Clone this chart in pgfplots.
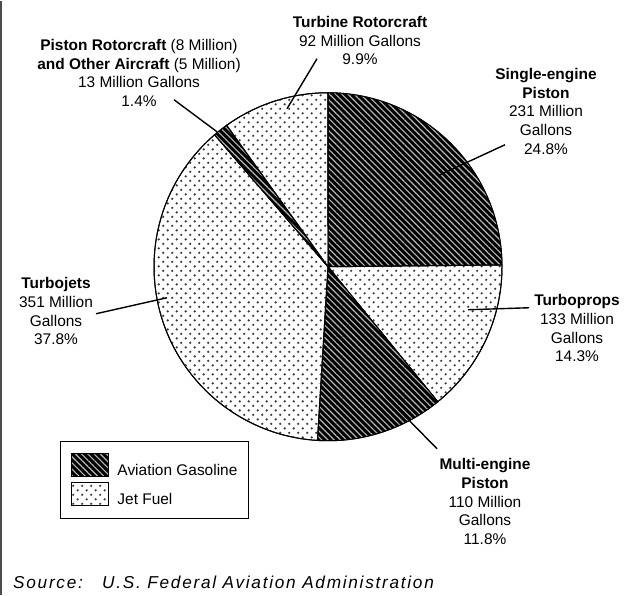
\documentclass[border=0pt]{standalone}
\usepackage{fontspec}
\setmainfont{Liberation Sans}
\usepackage{pgfplots}
\pgfplotsset{compat=1.18}
\usetikzlibrary{patterns,patterns.meta}

\pgfdeclarepatternformonly{jetdots}{\pgfqpoint{0pt}{0pt}}{\pgfqpoint{9pt}{9pt}}{\pgfqpoint{9pt}{9pt}}{%
  \pgfpathcircle{\pgfqpoint{2.25pt}{2.25pt}}{1.25pt}%
  \pgfpathcircle{\pgfqpoint{6.75pt}{6.75pt}}{1.25pt}%
  \pgfusepath{fill}}

\tikzset{
  avgas/.style={preaction={fill=black}, pattern={Lines[angle=-45,distance=4.4pt,line width=1.15pt]}, pattern color=black!28},
  jetfuel/.style={preaction={fill=white}, pattern=jetdots, pattern color=black!78},
  lbl/.style={align=center, anchor=north, inner sep=0pt, font=\fontsize{15.5}{19}\selectfont},
}

% fuel use, million gallons (clockwise from 12 o'clock)
\def\vSingle{231}
\def\vTurboprop{133}
\def\vMulti{110}
\def\vTurbojet{351}
\def\vPistonRot{13}
\def\vTurbineRot{92}
\pgfmathsetmacro\total{\vSingle+\vTurboprop+\vMulti+\vTurbojet+\vPistonRot+\vTurbineRot}
\pgfmathsetmacro\aA{90}
\pgfmathsetmacro\aB{\aA-\vSingle/\total*360}
\pgfmathsetmacro\aC{\aB-\vTurboprop/\total*360}
\pgfmathsetmacro\aD{\aC-\vMulti/\total*360}
\pgfmathsetmacro\aE{\aD-\vTurbojet/\total*360}
\pgfmathsetmacro\aF{\aE-\vPistonRot/\total*360}
\pgfmathsetmacro\aG{\aF-\vTurbineRot/\total*360}

\newcommand\pieslice[3]{%
  \addplot[#3, draw=black, line width=1pt, domain=#2:#1, samples=90, variable=\t, forget plot]
    ({328+174*cos(\t)},{266-174*sin(\t)}) -- (axis cs:328,266) -- cycle;}

\begin{document}
\begin{tikzpicture}
\begin{axis}[
  width=634bp, height=594bp, scale only axis,
  xmin=0, xmax=634, ymin=0, ymax=594, y dir=reverse,
  hide axis, clip=false,
  legend image code/.code={\draw[#1, line width=1pt] (0bp,-6bp) rectangle (37bp,17bp);},
  legend cell align=left,
  legend style={at={(axis cs:60,440)}, anchor=north west, draw=black, line width=1pt,
    font=\fontsize{15.5}{19}\selectfont, inner xsep=11bp, inner ysep=12bp,
    nodes={inner sep=0pt}, column sep=8bp, row sep=5bp},
]
\path (axis cs:0,0) rectangle (axis cs:634,594);

\pieslice{\aA}{\aB}{avgas}
\pieslice{\aB}{\aC}{jetfuel}
\pieslice{\aC}{\aD}{avgas}
\pieslice{\aD}{\aE}{jetfuel}
\pieslice{\aE}{\aF}{avgas}
\pieslice{\aF}{\aG}{jetfuel}

\addlegendimage{avgas}
\addlegendentry{Aviation Gasoline}
\addlegendimage{jetfuel}
\addlegendentry{Jet Fuel}

% leader lines
\draw[line width=1.4pt] (axis cs:317,58) -- (axis cs:287,108);
\draw[line width=1.4pt] (axis cs:174,99) -- (axis cs:217,131);
\draw[line width=1.4pt] (axis cs:505,144) -- (axis cs:438,175);
\draw[line width=1.4pt] (axis cs:529,307) -- (axis cs:468,309);
\draw[line width=1.4pt] (axis cs:96,313) -- (axis cs:167,297);
\draw[line width=1.4pt] (axis cs:437,448) -- (axis cs:385,395);

% labels
\node[lbl] at (axis cs:360,15) {\textbf{Turbine Rotorcraft}\\92 Million Gallons\\9.9\%};
\node[lbl] at (axis cs:139,38) {\textbf{Piston Rotorcraft} (8 Million)\\\textbf{and Other Aircraft} (5 Million)\\13 Million Gallons\\1.4\%};
\node[lbl] at (axis cs:546,67) {\textbf{Single-engine}\\\textbf{Piston}\\231 Million\\Gallons\\24.8\%};
\node[lbl] at (axis cs:577,293) {\textbf{Turboprops}\\133 Million\\Gallons\\14.3\%};
\node[lbl] at (axis cs:56,276) {\textbf{Turbojets}\\351 Million\\Gallons\\37.8\%};
\node[lbl] at (axis cs:485,457) {\textbf{Multi-engine}\\\textbf{Piston}\\110 Million\\Gallons\\11.8\%};

% source
\node[anchor=base west, inner sep=0pt, font=\fontsize{17.3}{20}\selectfont\itshape\addfontfeatures{LetterSpace=10}] at (axis cs:13,588) {Source:};
\node[anchor=base west, inner sep=0pt, font=\fontsize{17.3}{20}\selectfont\itshape\addfontfeatures{LetterSpace=10}] at (axis cs:102,588) {U.S. Federal Aviation Administration};

% left frame line
\draw[black!70, line width=1.5bp] (axis cs:0.75,0) -- (axis cs:0.75,594);
\end{axis}
\end{tikzpicture}
\end{document}
